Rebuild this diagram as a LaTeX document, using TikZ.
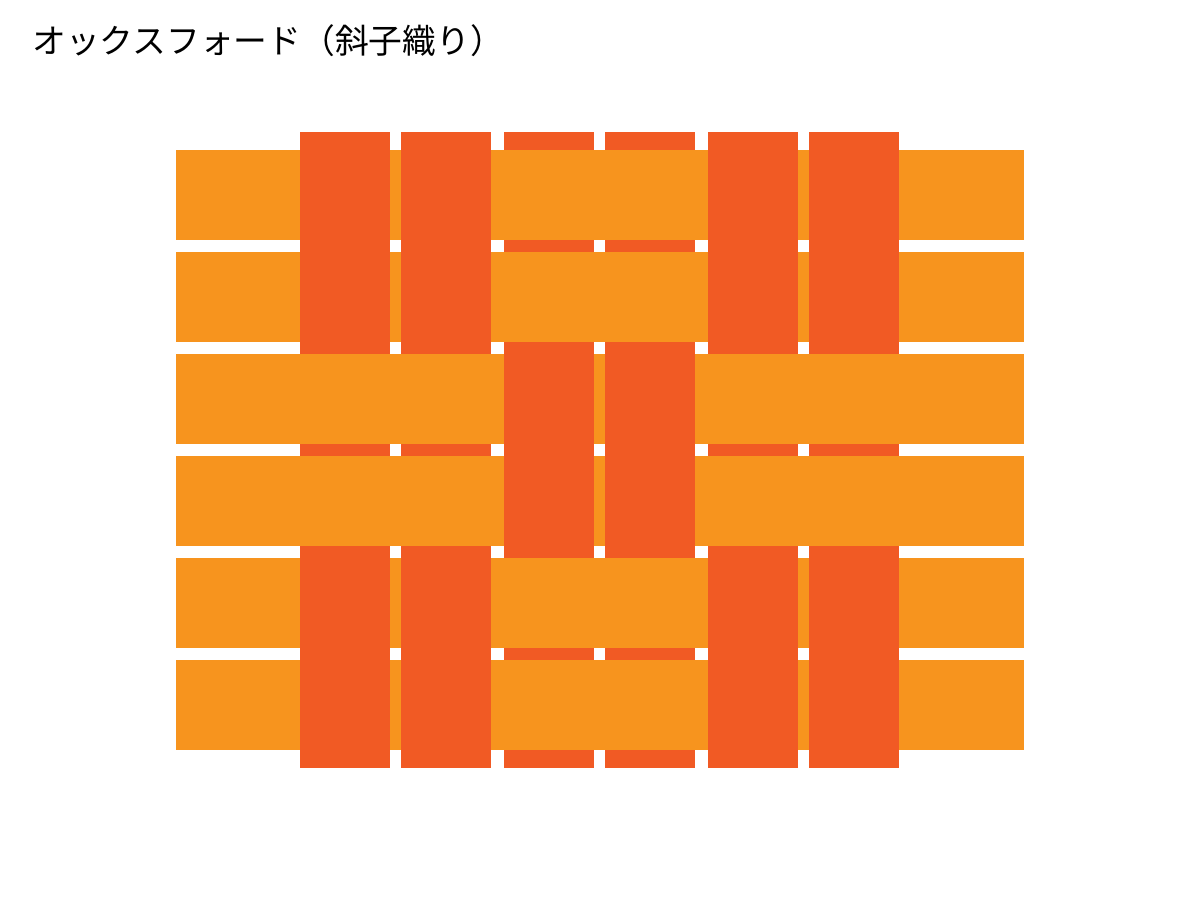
\documentclass[tikz,border=0pt]{standalone}
\usepackage{fontspec}
\newfontfamily\jpfont{Noto Sans CJK JP}
\definecolor{weftorange}{HTML}{F7941E}
\definecolor{warpred}{HTML}{F15A24}

\tikzstyle{weft} = [fill=weftorange]
\tikzstyle{warp} = [fill=warpred]
\tikzstyle{title} = [anchor=west, inner sep=0pt, font=\jpfont\fontsize{24pt}{28pt}\selectfont]

\begin{document}
\begin{tikzpicture}[x=0.025cm, y=-0.025cm]
\useasboundingbox (0,0) rectangle (1200,900);

\node (heading) [title] at (32,41) {オックスフォード（斜子織り）};

% weft rows
\foreach \r in {0,...,5}
  \fill [weft] (176,150+102*\r) rectangle (1024,240+102*\r);
% warp columns
\foreach \x in {300,401,504,605,708,809}
  \fill [warp] (\x,132) rectangle (\x+90,768);
% weft over the middle pair in rows 1-2 and 5-6
\foreach \r in {0,1,4,5}
  \fill [weft] (491,150+102*\r) rectangle (708,240+102*\r);
% weft over the outer pairs in rows 3-4
\foreach \r in {2,3} {
  \fill [weft] (176,150+102*\r) rectangle (504,240+102*\r);
  \fill [weft] (695,150+102*\r) rectangle (1024,240+102*\r);
}
\end{tikzpicture}
\end{document}
